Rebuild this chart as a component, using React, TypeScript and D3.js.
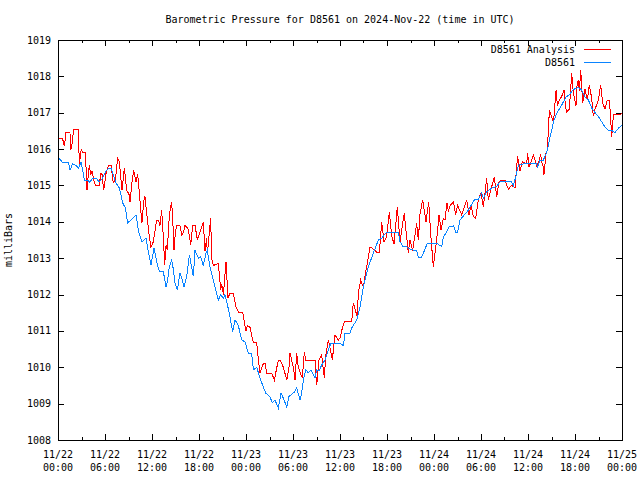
import React from "react";
import * as d3 from "d3";

const title = "Barometric Pressure for D8561 on 2024-Nov-22 (time in UTC)";
const yLabel = "milliBars";
const seriesNames = ["D8561 Analysis", "D8561"];
const seriesColors = ["#ff0000", "#0a84ff"];
const yTicks = [1008, 1009, 1010, 1011, 1012, 1013, 1014, 1015, 1016, 1017, 1018, 1019];
const xTickHours = [0, 6, 12, 18, 24, 30, 36, 42, 48, 54, 60, 66, 72];
const xTickDates = ["11/22", "11/22", "11/22", "11/22", "11/23", "11/23", "11/23", "11/23", "11/24", "11/24", "11/24", "11/24", "11/25"];
const xTickTimes = ["00:00", "06:00", "12:00", "18:00", "00:00", "06:00", "12:00", "18:00", "00:00", "06:00", "12:00", "18:00", "00:00"];

// hours since 2024-11-22 00:00 UTC
const redHours = [
  0.09, 0.6, 0.77, 0.89, 1.02, 1.53, 1.62, 1.75, 2.0, 2.6, 2.72, 2.98, 3.15, 3.5, 3.7, 3.87, 4.0, 4.17, 4.34, 4.51,
  4.77, 5.28, 5.45, 5.62, 5.83, 6.13, 6.47, 6.77, 7.06, 7.32, 7.62, 7.83, 8.17, 8.47, 8.77, 9.1, 9.19, 9.45, 9.66, 9.96,
  10.17, 10.38, 10.64, 10.72, 10.94, 11.1, 11.32, 11.66, 11.87, 12.17, 12.6, 12.81, 13.02, 13.23, 13.36, 13.53, 13.62, 13.79, 13.96, 14.21,
  14.38, 14.51, 14.64, 14.81, 14.98, 15.15, 15.57, 15.79, 16.0, 16.21, 16.64, 16.94, 17.19, 17.49, 17.8, 18.55, 18.77, 18.98, 19.06, 19.49,
  19.62, 19.83, 20.47, 20.77, 20.9, 21.11, 21.45, 21.7, 21.96, 22.38, 22.72, 23.02, 23.57, 23.74, 24.0, 24.2, 24.51, 24.94, 25.37, 25.58,
  25.79, 26.21, 26.43, 26.64, 27.28, 27.62, 27.92, 28.13, 28.34, 28.77, 29.2, 29.49, 29.62, 30.04, 30.26, 30.47, 30.68, 31.19, 31.45, 31.62,
  32.81, 32.94, 33.02, 33.32, 33.66, 34.0, 34.17, 34.51, 34.85, 35.02, 35.36, 35.79, 36.0, 36.3, 36.55, 37.49, 37.7, 37.92, 38.21, 38.34,
  38.64, 38.98, 39.32, 39.49, 39.83, 40.26, 40.77, 41.02, 41.32, 41.62, 41.96, 42.3, 42.6, 42.9, 43.32, 43.66, 43.9, 44.2, 44.72, 44.93,
  45.27, 45.79, 46.0, 46.21, 46.55, 46.98, 47.32, 47.57, 47.91, 48.13, 48.34, 48.64, 48.9, 49.19, 49.4, 49.66, 49.83, 50.08, 50.47, 50.77,
  51.02, 51.53, 51.87, 52.17, 52.47, 52.72, 53.02, 53.32, 53.66, 54.0, 54.3, 54.72, 54.94, 55.28, 55.7, 56.0, 56.3, 56.64, 57.06, 57.28,
  57.49, 57.91, 58.34, 58.55, 58.68, 58.98, 59.28, 59.83, 59.96, 60.13, 60.47, 60.68, 61.11, 61.45, 61.62, 61.75, 61.96, 62.04, 62.3, 62.47,
  62.73, 62.9, 63.24, 63.32, 63.58, 63.75, 64.0, 64.3, 64.6, 64.77, 64.94, 65.28, 65.58, 65.71, 65.92, 66.13, 66.22, 66.43, 66.56, 66.73,
  66.98, 67.28, 67.58, 67.83, 68.13, 68.34, 68.56, 68.98, 69.28, 69.54, 69.83, 70.13, 70.39, 70.56, 70.69, 70.9, 71.54, 72.0,
];
const redValues = [
  1016.28, 1016.28, 1016.1, 1016.2, 1016.45, 1016.45, 1016.0, 1016.05, 1016.55, 1016.55, 1015.6, 1016.0, 1015.9, 1015.9, 1014.87, 1015.3, 1015.55, 1015.3, 1015.4, 1015.2,
  1015.0, 1015.0, 1015.33, 1015.3, 1014.87, 1015.33, 1015.56, 1015.56, 1015.07, 1015.15, 1015.75, 1015.65, 1014.87, 1015.48, 1014.87, 1014.74, 1014.55, 1015.1, 1015.42, 1015.1,
  1015.3, 1014.82, 1014.13, 1013.97, 1014.55, 1014.7, 1014.24, 1013.6, 1013.3, 1013.45, 1014.05, 1014.05, 1013.9, 1014.32, 1013.9, 1013.22, 1012.81, 1013.35, 1013.22, 1014.17,
  1014.42, 1014.55, 1014.1, 1013.22, 1013.7, 1013.9, 1013.9, 1013.64, 1013.7, 1013.9, 1013.8, 1013.36, 1013.9, 1013.9, 1013.5, 1014.0, 1013.2, 1013.55, 1013.1, 1014.1,
  1013.0, 1012.8, 1012.85, 1012.14, 1012.3, 1012.0, 1012.9, 1011.9, 1012.04, 1012.04, 1011.66, 1011.52, 1011.52, 1011.3, 1011.0, 1011.15, 1011.1, 1010.67, 1010.67, 1010.2,
  1009.84, 1010.1, 1010.1, 1009.84, 1009.84, 1009.65, 1009.98, 1010.2, 1010.2, 1010.0, 1009.65, 1010.0, 1010.39, 1010.0, 1009.65, 1010.39, 1010.0, 1009.7, 1010.42, 1010.2,
  1010.2, 1009.74, 1009.5, 1010.2, 1010.34, 1009.7, 1010.3, 1010.75, 1010.4, 1010.2, 1010.89, 1010.75, 1010.8, 1011.08, 1011.25, 1011.25, 1011.77, 1011.6, 1011.38, 1012.04,
  1012.4, 1012.2, 1012.67, 1012.86, 1013.31, 1013.25, 1013.15, 1013.15, 1013.99, 1013.45, 1013.6, 1014.27, 1013.6, 1013.4, 1014.41, 1013.45, 1013.8, 1014.24, 1013.14, 1013.5,
  1013.2, 1013.96, 1013.5, 1014.2, 1014.6, 1014.0, 1014.55, 1013.7, 1012.76, 1013.14, 1013.5, 1014.19, 1013.77, 1014.1, 1014.05, 1014.52, 1014.3, 1014.45, 1014.55, 1014.2,
  1014.45, 1014.19, 1014.4, 1014.6, 1014.2, 1014.45, 1014.15, 1014.1, 1014.6, 1014.8, 1014.4, 1015.2, 1014.6, 1014.9, 1015.23, 1014.69, 1015.1, 1015.15, 1015.15, 1015.0,
  1014.9, 1015.0, 1014.93, 1015.5, 1015.8, 1015.4, 1015.65, 1015.6, 1015.89, 1015.5, 1015.7, 1015.84, 1015.55, 1015.7, 1015.85, 1015.65, 1015.5, 1015.29, 1015.9, 1015.97,
  1017.07, 1016.95, 1016.76, 1016.9, 1017.62, 1017.2, 1017.35, 1017.45, 1017.62, 1017.2, 1017.02, 1017.1, 1018.09, 1017.7, 1017.4, 1017.2, 1017.7, 1017.9, 1017.6, 1018.17,
  1017.26, 1017.65, 1017.35, 1017.76, 1017.4, 1016.9, 1017.1, 1017.35, 1017.76, 1017.26, 1017.1, 1017.35, 1017.35, 1016.8, 1016.33, 1016.94, 1016.94, 1016.97,
];

const blueHours = [
  0.09, 0.6, 1.36, 1.53, 1.87, 2.3, 2.64, 2.94, 3.15, 3.36, 3.79, 4.0, 4.43, 4.85, 5.28, 5.7, 6.13, 6.55, 6.77, 7.4,
  7.83, 8.26, 8.6, 8.89, 9.32, 9.96, 10.3, 10.72, 11.23, 11.57, 11.87, 12.26, 12.6, 12.94, 13.45, 13.79, 13.96, 14.21, 14.51, 14.72,
  14.94, 15.23, 15.36, 15.57, 15.79, 16.09, 16.43, 16.77, 17.06, 17.28, 17.49, 17.92, 18.21, 18.55, 18.89, 19.06, 19.4, 19.83, 20.04, 20.47,
  20.77, 21.11, 21.32, 21.87, 22.3, 22.6, 23.02, 23.45, 23.87, 24.3, 24.72, 24.94, 25.37, 25.79, 26.21, 26.51, 27.06, 27.36, 27.7, 28.13,
  28.47, 28.77, 29.2, 29.49, 29.83, 30.17, 30.47, 30.9, 31.11, 31.32, 31.62, 31.96, 32.3, 32.81, 33.02, 33.32, 33.66, 34.09, 34.43, 34.85,
  35.15, 36.0, 36.43, 36.64, 37.28, 37.49, 38.13, 38.55, 38.98, 39.62, 40.26, 40.89, 41.32, 41.96, 43.45, 43.66, 44.09, 44.51, 44.94, 45.79,
  46.0, 46.43, 46.85, 47.15, 48.34, 48.98, 49.19, 49.62, 49.92, 50.26, 50.47, 50.77, 51.02, 51.32, 51.87, 52.38, 53.15, 53.66, 54.09, 54.3,
  54.72, 55.36, 56.0, 56.43, 57.91, 58.13, 58.43, 58.77, 59.62, 60.89, 61.11, 61.2, 61.53, 61.96, 62.17, 62.47, 62.73, 63.02, 63.32, 63.75,
  64.3, 64.85, 65.28, 65.71, 66.0, 66.43, 66.85, 67.28, 67.71, 68.13, 68.56, 68.98, 69.41, 69.83, 70.26, 70.68, 71.11, 71.32, 71.66, 72.0,
];
const blueValues = [
  1015.76, 1015.63, 1015.63, 1015.42, 1015.6, 1015.55, 1015.48, 1015.65, 1015.42, 1015.15, 1015.15, 1015.08, 1015.2, 1015.2, 1015.1, 1015.2, 1015.4, 1015.48, 1015.48, 1015.07,
  1014.93, 1014.52, 1014.38, 1013.97, 1014.05, 1014.19, 1013.72, 1013.45, 1013.55, 1013.14, 1012.81, 1013.28, 1012.9, 1012.63, 1012.63, 1012.2, 1012.35, 1012.76, 1012.95, 1012.7,
  1012.32, 1012.12, 1012.3, 1012.6, 1012.45, 1012.2, 1012.5, 1013.09, 1012.76, 1012.5, 1013.22, 1013.0, 1013.05, 1012.8, 1013.13, 1013.22, 1012.76, 1012.4, 1012.2, 1011.85,
  1012.0, 1011.9, 1012.0, 1011.49, 1010.97, 1011.3, 1011.15, 1010.75, 1010.7, 1010.39, 1010.39, 1009.93, 1010.0, 1009.7, 1009.46, 1009.29, 1009.19, 1009.02, 1009.1, 1008.88,
  1009.29, 1009.15, 1008.91, 1009.2, 1009.25, 1009.32, 1009.43, 1009.1, 1009.3, 1009.65, 1009.93, 1009.85, 1009.93, 1009.7, 1009.93, 1009.9, 1010.06, 1010.2, 1010.42, 1010.67,
  1010.65, 1010.65, 1010.6, 1010.94, 1010.94, 1011.08, 1011.3, 1011.66, 1012.21, 1012.76, 1013.14, 1013.5, 1013.55, 1013.72, 1013.72, 1013.45, 1013.31, 1013.31, 1013.25, 1013.2,
  1013.03, 1013.03, 1013.25, 1013.41, 1013.41, 1013.32, 1013.58, 1013.72, 1013.86, 1013.86, 1013.9, 1013.72, 1013.72, 1014.05, 1014.19, 1014.32, 1014.6, 1014.62, 1014.8, 1014.65,
  1014.82, 1014.93, 1014.97, 1015.1, 1015.1, 1015.0, 1015.23, 1015.56, 1015.6, 1015.6, 1015.6, 1015.5, 1015.7, 1015.7, 1015.8, 1015.97, 1016.25, 1016.52, 1016.8, 1017.02,
  1017.21, 1017.43, 1017.5, 1017.62, 1017.66, 1017.7, 1017.62, 1017.43, 1017.35, 1017.13, 1017.0, 1016.9, 1016.75, 1016.6, 1016.52, 1016.52, 1016.44, 1016.52, 1016.6, 1016.65,
];

const W = 640;
const H = 480;
const M = { left: 58, right: 622, top: 40, bottom: 440 };
const FONT = "'DejaVu Sans Mono', monospace";

export default function App() {
  const x = d3.scaleLinear().domain([0, 72]).range([M.left, M.right]);
  const y = d3.scaleLinear().domain([1008, 1019]).range([M.bottom, M.top]);

  const redPts: [number, number][] = redHours.map((h, i) => [h, redValues[i]]);
  const bluePts: [number, number][] = blueHours.map((h, i) => [h, blueValues[i]]);
  const line = d3
    .line<[number, number]>()
    .x((d) => x(d[0]))
    .y((d) => y(d[1]));

  const minorTicks = d3.range(0, 73, 3);

  return (
    <svg width={W} height={H} style={{ position: "absolute", left: 0, top: 0, background: "#fff" }}>
      <rect x={0} y={0} width={W} height={H} fill="#fff" />
      <text x={(M.left + M.right) / 2} y={23} textAnchor="middle" fontFamily={FONT} fontSize={10}>
        {title}
      </text>
      <text
        transform={`translate(12,${(M.top + M.bottom) / 2}) rotate(-90)`}
        textAnchor="middle"
        fontFamily={FONT}
        fontSize={10}
      >
        {yLabel}
      </text>

      {/* y ticks */}
      {yTicks.map((v) => (
        <g key={"y" + v}>
          <line x1={M.left} x2={M.left + 6} y1={Math.round(y(v)) + 0.5} y2={Math.round(y(v)) + 0.5} stroke="#000" />
          <line x1={M.right - 6} x2={M.right} y1={Math.round(y(v)) + 0.5} y2={Math.round(y(v)) + 0.5} stroke="#000" />
          <text x={51} y={y(v) + 3.5} textAnchor="end" fontFamily={FONT} fontSize={10}>
            {v}
          </text>
        </g>
      ))}

      {/* x ticks */}
      {minorTicks.map((h) => {
        const len = h % 6 === 0 ? 6 : 3;
        const xp = Math.round(x(h)) + 0.5;
        return (
          <g key={"m" + h}>
            <line x1={xp} x2={xp} y1={M.bottom} y2={M.bottom - len} stroke="#000" />
            <line x1={xp} x2={xp} y1={M.top} y2={M.top + len} stroke="#000" />
          </g>
        );
      })}
      {xTickHours.map((h, i) => (
        <g key={"x" + h}>
          <text x={x(h)} y={458} textAnchor="middle" fontFamily={FONT} fontSize={10}>
            {xTickDates[i]}
          </text>
          <text x={x(h)} y={471} textAnchor="middle" fontFamily={FONT} fontSize={10}>
            {xTickTimes[i]}
          </text>
        </g>
      ))}

      <path d={line(redPts) || ""} fill="none" stroke={seriesColors[0]} strokeWidth={1} shapeRendering="crispEdges" />
      <path d={line(bluePts) || ""} fill="none" stroke={seriesColors[1]} strokeWidth={1} shapeRendering="crispEdges" />

      {/* legend */}
      {seriesNames.map((name, i) => (
        <g key={name}>
          <text x={575} y={53 + i * 13} textAnchor="end" fontFamily={FONT} fontSize={10}>
            {name}
          </text>
          <line x1={584} x2={611} y1={49.5 + i * 13} y2={49.5 + i * 13} stroke={seriesColors[i]} />
        </g>
      ))}

      <rect
        x={M.left + 0.5}
        y={M.top + 0.5}
        width={M.right - M.left}
        height={M.bottom - M.top}
        fill="none"
        stroke="#000"
      />
    </svg>
  );
}
